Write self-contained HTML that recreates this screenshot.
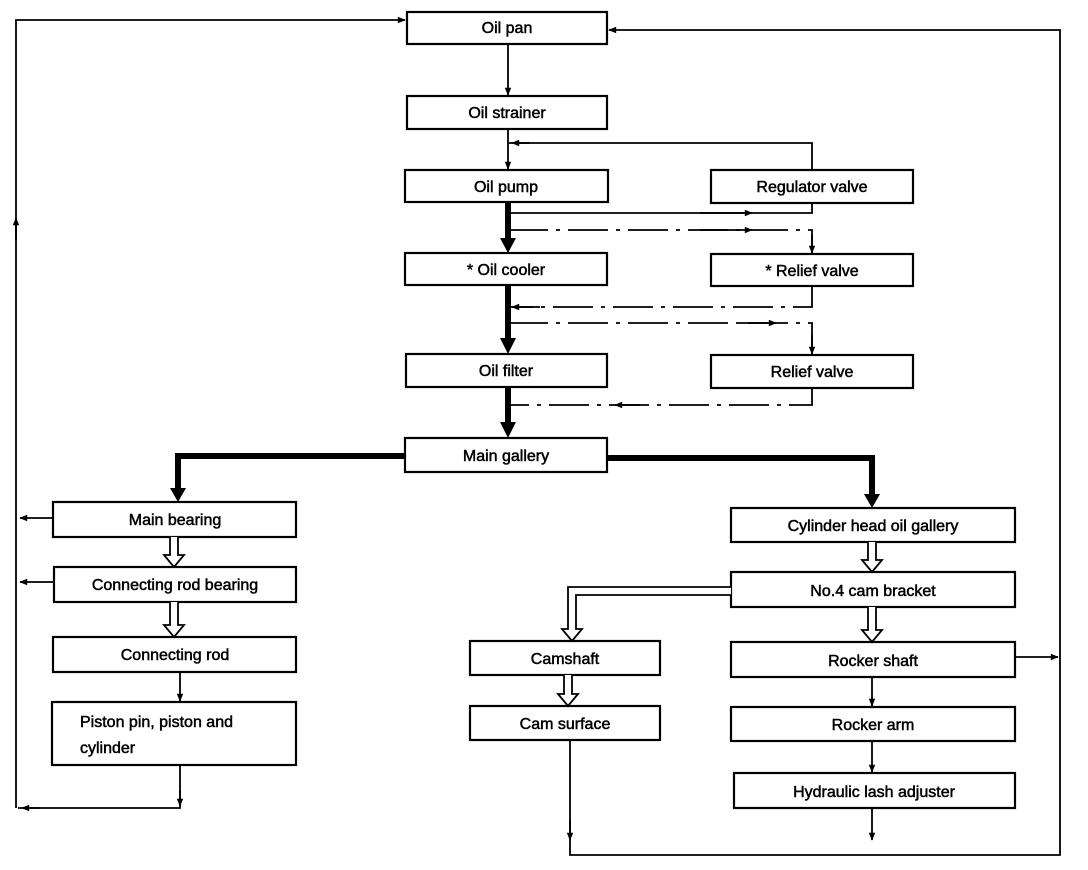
<!DOCTYPE html>
<html><head><meta charset="utf-8"><style>
html,body{margin:0;padding:0;background:#fff;}
svg{display:block;}
text{font-family:"Liberation Sans",Arial,sans-serif;font-size:16px;fill:#000;text-anchor:middle;stroke:#000;stroke-width:0.5;}
</style></head><body>
<svg width="1088" height="870" viewBox="0 0 1088 870" xmlns="http://www.w3.org/2000/svg">
<defs>
<marker id="a" viewBox="0 0 10 10" refX="9" refY="5" markerWidth="10" markerHeight="8" markerUnits="userSpaceOnUse" orient="auto"><path d="M0,1 L10,5 L0,9 z" fill="#000"/></marker>
</defs>
<g fill="none" stroke="#000" stroke-width="2.2">
<rect x="407" y="12" width="200" height="32"/>
<rect x="407" y="96" width="200" height="33"/>
<rect x="405" y="170" width="203" height="32"/>
<rect x="711" y="170" width="202" height="33"/>
<rect x="405" y="253" width="202" height="32"/>
<rect x="711" y="254" width="202" height="32"/>
<rect x="406" y="354" width="201" height="33"/>
<rect x="711" y="355" width="202" height="33"/>
<rect x="405" y="438" width="202" height="34"/>
<rect x="53" y="502" width="243" height="35"/>
<rect x="54" y="567" width="242" height="35"/>
<rect x="53" y="637" width="243" height="35"/>
<rect x="52" y="702" width="244" height="63"/>
<rect x="731" y="508" width="284" height="34"/>
<rect x="731" y="572" width="284" height="35"/>
<rect x="731" y="642" width="284" height="35"/>
<rect x="731" y="707" width="284" height="34"/>
<rect x="734" y="773" width="281" height="35"/>
<rect x="470" y="641" width="190" height="34"/>
<rect x="470" y="706" width="190" height="34"/>
</g>
<g fill="none" stroke="#000" stroke-width="1.8">
<polyline points="16,808 16,20 405,20" marker-end="url(#a)"/>
<line x1="16" y1="240" x2="16" y2="218" marker-end="url(#a)"/>
<polyline points="570,740 570,855 1060,855 1060,30 609,30" marker-end="url(#a)"/>
<line x1="570" y1="820" x2="570" y2="840" marker-end="url(#a)"/>
<line x1="872" y1="808" x2="872" y2="840" marker-end="url(#a)"/>
<line x1="1015" y1="657" x2="1058" y2="657" marker-end="url(#a)"/>
<line x1="53" y1="518" x2="20" y2="518" marker-end="url(#a)"/>
<line x1="54" y1="582" x2="20" y2="582" marker-end="url(#a)"/>
<polyline points="180,765 180,808 18,808"/>
<line x1="180" y1="790" x2="180" y2="806" marker-end="url(#a)"/>
<line x1="40" y1="808" x2="22" y2="808" marker-end="url(#a)"/>
<line x1="180" y1="672" x2="180" y2="701" marker-end="url(#a)"/>
<line x1="872" y1="677" x2="872" y2="706" marker-end="url(#a)"/>
<line x1="872" y1="741" x2="872" y2="772" marker-end="url(#a)"/>
<line x1="508" y1="44" x2="508" y2="95" marker-end="url(#a)"/>
<line x1="508" y1="129" x2="508" y2="169" marker-end="url(#a)"/>
<polyline points="812,170 812,143 508,143"/>
<line x1="530" y1="143" x2="512" y2="143" marker-end="url(#a)"/>
<polyline points="508,213 812,213 812,203"/>
<line x1="700" y1="213" x2="752" y2="213" marker-end="url(#a)"/>
<polyline points="508,230 812,230 812,253" stroke-dasharray="40,8,4,8"/>
<line x1="700" y1="230" x2="752" y2="230" marker-end="url(#a)"/>
<line x1="812" y1="235" x2="812" y2="253" marker-end="url(#a)"/>
<polyline points="812,286 812,307 508,307" stroke-dasharray="40,8,4,8"/>
<line x1="540" y1="307" x2="512" y2="307" marker-end="url(#a)"/>
<polyline points="508,323 812,323 812,354" stroke-dasharray="40,8,4,8"/>
<line x1="740" y1="323" x2="776" y2="323" marker-end="url(#a)"/>
<line x1="812" y1="335" x2="812" y2="354" marker-end="url(#a)"/>
<polyline points="812,388 812,405 508,405" stroke-dasharray="40,8,4,8"/>
<line x1="640" y1="405" x2="615" y2="405" marker-end="url(#a)"/>
</g>
<g fill="none" stroke="#000" stroke-width="6">
<line x1="508" y1="202" x2="508" y2="240"/>
<line x1="508" y1="285" x2="508" y2="340"/>
<line x1="508" y1="387" x2="508" y2="424"/>
<polyline points="405,456 178,456 178,490"/>
<polyline points="607,458 872,458 872,496"/>
</g>
<g fill="#000">
<path d="M500,238 L516,238 L508,253 z"/>
<path d="M500,338 L516,338 L508,354 z"/>
<path d="M500,422 L516,422 L508,438 z"/>
<path d="M170,488 L186,488 L178,502 z"/>
<path d="M864,494 L880,494 L872,508 z"/>
</g>
<g fill="#fff" stroke="#000" stroke-width="1.8">
<path d="M170,537 L170,555 L164,555 L174,567 L184,555 L178,555 L178,537"/>
<path d="M170,602 L170,625 L164,625 L174,637 L184,625 L178,625 L178,602"/>
<path d="M868,542 L868,560 L862,560 L872,572 L882,560 L876,560 L876,542"/>
<path d="M868,607 L868,630 L862,630 L872,642 L882,630 L876,630 L876,607"/>
<path d="M564,675 L564,694 L558,694 L568,706 L578,694 L572,694 L572,675"/>
<path d="M731,587 L568,587 L568,629 L562,629 L572,641 L582,629 L576,629 L576,595 L731,595"/>
</g>
<text x="507" y="33">Oil pan</text>
<text x="507" y="118">Oil strainer</text>
<text x="506" y="192">Oil pump</text>
<text x="812" y="192">Regulator valve</text>
<text x="506" y="275">* Oil cooler</text>
<text x="812" y="276">* Relief valve</text>
<text x="506" y="376">Oil filter</text>
<text x="812" y="377">Relief valve</text>
<text x="506" y="461">Main gallery</text>
<text x="175" y="525">Main bearing</text>
<text x="175" y="590">Connecting rod bearing</text>
<text x="175" y="660">Connecting rod</text>
<text x="80" y="727" style="text-anchor:start">Piston pin, piston and</text>
<text x="80" y="753" style="text-anchor:start">cylinder</text>
<text x="873" y="531">Cylinder head oil gallery</text>
<text x="873" y="596">No.4 cam bracket</text>
<text x="873" y="666">Rocker shaft</text>
<text x="873" y="730">Rocker arm</text>
<text x="874" y="797">Hydraulic lash adjuster</text>
<text x="565" y="664">Camshaft</text>
<text x="565" y="729">Cam surface</text>
</svg>
</body></html>
